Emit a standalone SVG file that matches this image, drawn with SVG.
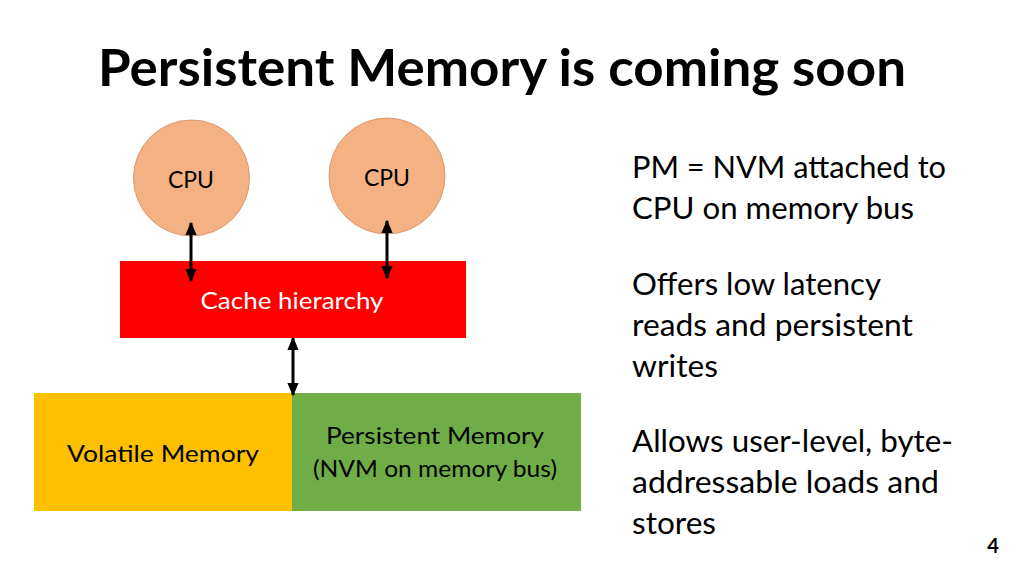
<svg xmlns="http://www.w3.org/2000/svg" width="1024" height="576" viewBox="0 0 1024 576">
<defs>
<marker id="ah" viewBox="0 0 10 10" refX="9" refY="5" markerWidth="4.5" markerHeight="4.5" orient="auto-start-reverse" markerUnits="strokeWidth">
<path d="M0,0.8 L10,5 L0,9.2 Z" fill="#000"/>
</marker>
<style>
text{font-family:Lato,"Open Sans","Liberation Sans",sans-serif;fill:#000}
.cpu{fill:#F4B183;stroke:#D89A70;stroke-width:1}
.lbl{font-size:23px;text-anchor:middle}
.side{font-size:30px}
.conn{stroke:#000;stroke-width:3;fill:none;marker-start:url(#ah);marker-end:url(#ah)}
</style>
</defs>
<rect width="1024" height="576" fill="#fff"/>
<text x="98" y="86" font-size="52" font-weight="bold" textLength="808" lengthAdjust="spacingAndGlyphs">Persistent Memory is coming soon</text>
<g id="cpu1"><circle class="cpu" cx="191.5" cy="178" r="58"/><text class="lbl" x="191" y="188" textLength="46" lengthAdjust="spacingAndGlyphs">CPU</text></g>
<g id="cpu2"><circle class="cpu" cx="387" cy="176" r="58"/><text class="lbl" x="387" y="186" textLength="46" lengthAdjust="spacingAndGlyphs">CPU</text></g>
<g id="cache"><rect x="120" y="261" width="346" height="77" fill="#FF0000"/><text class="lbl" x="292" y="309" style="fill:#fff" font-size="24" textLength="183" lengthAdjust="spacingAndGlyphs">Cache hierarchy</text></g>
<g id="volatile"><rect x="34" y="393" width="259" height="118" fill="#FFC000"/><text class="lbl" x="163" y="462" textLength="192" lengthAdjust="spacingAndGlyphs">Volatile Memory</text></g>
<g id="persistent"><rect x="292" y="393" width="289" height="118" fill="#70AD47"/><text class="lbl" x="435" y="444" textLength="218" lengthAdjust="spacingAndGlyphs">Persistent Memory</text><text class="lbl" x="435" y="477" textLength="244" lengthAdjust="spacingAndGlyphs">(NVM on memory bus)</text></g>
<g id="connectors">
<line class="conn" x1="191" y1="223" x2="191" y2="281"/>
<line class="conn" x1="387" y1="221" x2="387" y2="278"/>
<line class="conn" x1="293" y1="338" x2="293" y2="395"/>
</g>
<g id="notes">
<text class="side" x="632" y="178" textLength="314" lengthAdjust="spacingAndGlyphs">PM = NVM attached to</text>
<text class="side" x="632" y="219" textLength="282" lengthAdjust="spacingAndGlyphs">CPU on memory bus</text>
<text class="side" x="632" y="295" textLength="249" lengthAdjust="spacingAndGlyphs">Offers low latency</text>
<text class="side" x="632" y="336" textLength="281" lengthAdjust="spacingAndGlyphs">reads and persistent</text>
<text class="side" x="632" y="377" textLength="86" lengthAdjust="spacingAndGlyphs">writes</text>
<text class="side" x="632" y="452" textLength="321" lengthAdjust="spacingAndGlyphs">Allows user-level, byte-</text>
<text class="side" x="632" y="493" textLength="307" lengthAdjust="spacingAndGlyphs">addressable loads and</text>
<text class="side" x="632" y="534" textLength="84" lengthAdjust="spacingAndGlyphs">stores</text>
</g>
<text x="993" y="553" font-size="20" font-weight="bold" text-anchor="middle">4</text>
</svg>
